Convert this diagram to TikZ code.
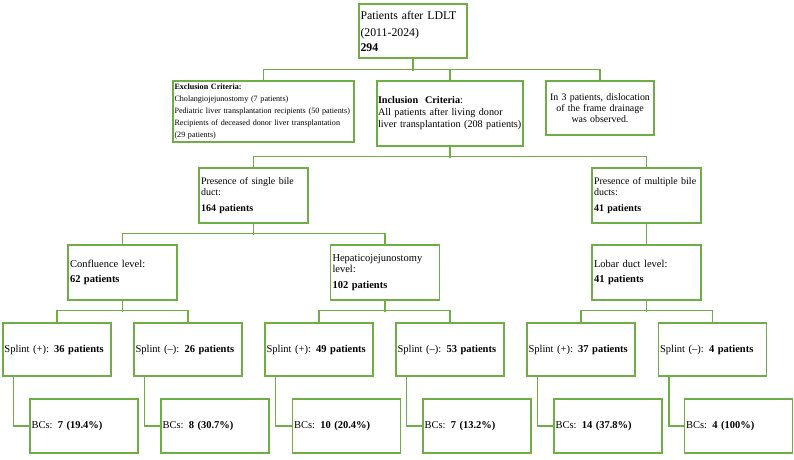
\documentclass[tikz,border=0pt]{standalone}
\usepackage{fontspec}
\setmainfont{Liberation Serif}
\definecolor{boxgreen}{RGB}{112,173,71}
\begin{document}
\begin{tikzpicture}[x=1pt, y=-1pt,
	box/.style={draw=boxgreen, line width=1.4pt, rectangle, inner xsep=1.5pt, inner ysep=0pt,
		align=left, text width=105pt, minimum width=108pt, minimum height=54pt,
		font=\fontsize{10.5}{11.5}\selectfont},
	link/.style={draw=boxgreen, line width=1.4pt}]
	
	\useasboundingbox (0,0) rectangle (794,459);
	
	% --- Level 1: all patients ---
	\node[box, font=\fontsize{11.8}{13}\selectfont] (top) at (413,31)
	{Patients after LDLT\\[4pt](2011-2024)\\[2pt]\textbf{294}};
	
	% --- Level 2: criteria ---
	\node[box, text width=178pt, minimum width=181pt, minimum height=61pt,
	font=\fontsize{8.1}{11.8}\selectfont] (excl) at (263.5,111.5)
	{\textbf{Exclusion Criteria:}\\Cholangiojejunostomy (7 patients)\\\mbox{Pediatric liver transplantation recipients (50 patients)}\\Recipients of deceased donor liver transplantation\\(29 patients)};
	\node[box, inner xsep=1pt, text width=144pt, minimum width=146pt, minimum height=65pt,
	font=\fontsize{10.2}{12}\selectfont] (incl) at (450,113.5)
	{\textbf{Inclusion\ \ Criteria}:\\\mbox{All patients after living donor}\\\mbox{liver transplantation (208 patients)}};
	\node[box, align=center, font=\fontsize{9.9}{11.3}\selectfont] (note) at (600,108)
	{\mbox{In 3 patients, dislocation}\\of the frame drainage\\was observed.};
	
	\draw[link] (excl.north) -- ++(0,-11) -| (note.north);
	\draw[link] (top.south) -- ++(0,12);
	\draw[link] (incl.north) -- ++(0,-11);
	
	% --- Level 3: bile ducts ---
	\node[box, minimum width=109pt, minimum height=55pt, font=\fontsize{10}{11}\selectfont] (single) at (253.5,195.5)
	{\mbox{Presence of single bile}\\duct:\\[4.5pt]\textbf{164 patients}};
	\node[box, minimum width=109pt, minimum height=55pt, font=\fontsize{10}{11}\selectfont] (multi) at (646.5,195.5)
	{\mbox{Presence of multiple bile}\\ducts:\\[4.5pt]\textbf{41 patients}};
	
	\draw[link] (single.north) -- ++(0,-11) -| (multi.north);
	\draw[link] (incl.south) -- ++(0,11);
	
	% --- Level 4: anastomosis level ---
	\node[box, minimum width=109pt, minimum height=55pt] (confl) at (122.5,272.5)
	{Confluence level:\\[4pt]\textbf{62 patients}};
	\node[box, minimum width=109pt, minimum height=55pt] (hepat) at (385,272.5)
	{Hepaticojejunostomy\\level:\\[4pt]\textbf{102 patients}};
	\node[box, minimum width=109pt, minimum height=55pt] (lobar) at (646.5,272.5)
	{Lobar duct level:\\[4pt]\textbf{41 patients}};
	
	\draw[link] (confl.north) -- ++(0,-11) -| (hepat.north);
	\draw[link] (single.south) -- ++(0,11);
	\draw[link] (multi) -- (lobar);
	
	% --- Level 5: splint ---
	\foreach \i/\x/\lab in {1/57/{Splint (+): \textbf{36 patients}},
		2/188/{Splint (–): \textbf{26 patients}},
		3/319/{Splint (+): \textbf{49 patients}},
		4/450/{Splint (–): \textbf{53 patients}},
		5/581/{Splint (+): \textbf{37 patients}},
		6/712.5/{Splint (–): \textbf{4 patients}}}
	\node[box, minimum height=53pt] (sp\i) at (\x,349.5) {\lab};
	
	\draw[link] (sp1.north) -- ++(0,-12) -| (sp2.north);
	\draw[link] (confl.south) -- ++(0,11);
	\draw[link] (sp3.north) -- ++(0,-12) -| (sp4.north);
	\draw[link] (hepat.south) -- ++(0,11);
	\draw[link] (sp5.north) -- ++(0,-12) -| (sp6.north);
	\draw[link] (lobar.south) -- ++(0,11);
	
	% --- Level 6: biliary complications ---
	\foreach \i/\x/\lab in {1/84/{BCs: \textbf{7 (19.4\%)}},
		2/215/{BCs: \textbf{8 (30.7\%)}},
		3/346.5/{BCs: \textbf{10 (20.4\%)}},
		4/477/{BCs: \textbf{7 (13.2\%)}},
		5/608/{BCs: \textbf{14 (37.8\%)}},
		6/738.5/{BCs: \textbf{4 (100\%)}}}
	\node[box] (bc\i) at (\x,426) {\lab};
	
	\foreach \i in {1,...,6}
	\draw[link] ([xshift=11pt]sp\i.south west) |- (bc\i.west);
	
\end{tikzpicture}
\end{document}
